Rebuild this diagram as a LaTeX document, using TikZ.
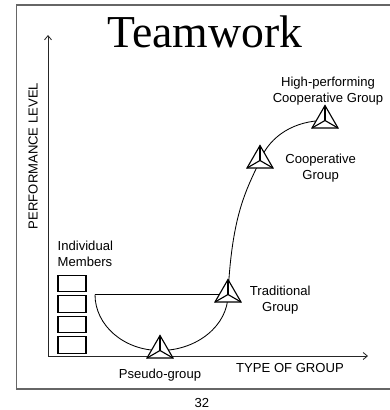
\documentclass[tikz,border=0pt]{standalone}
\usepackage{fontspec}
\setmainfont{Liberation Sans}
\newfontfamily\titlefont{Liberation Serif}
\usetikzlibrary{shapes.geometric, positioning, arrows.meta, backgrounds}

\begin{document}
\begin{tikzpicture}[
    x=0.025cm, y=-0.025cm,
    groupmark/.style={
        regular polygon,
        regular polygon sides=3,
        draw,
        line width=0.8pt,
        fill=white,
        minimum size=0.75cm,
        inner sep=0pt,
        outer sep=0pt
    },
    member/.style={
        rectangle,
        draw,
        line width=0.8pt,
        minimum width=0.7cm,
        minimum height=0.41cm,
        inner sep=0pt
    },
    grouplabel/.style={
        align=center,
        font=\fontsize{9.3}{11.3}\selectfont
    },
    axis/.style={
        -{Straight Barb[length=3pt, width=5pt]},
        line width=0.6pt,
        black!85
    },
    growth/.style={
        line width=0.6pt
    }
]
    \useasboundingbox (0,0) rectangle (390,410);

    % Frame
    \draw[black!60, line width=0.9pt] (16.5,5) rectangle (396,389);

    % Title
    \node[font=\titlefont\fontsize{32.5}{36}\selectfont] (title) at (205,32) {Teamwork};

    % Axes
    \coordinate (origin) at (48,356);
    \coordinate (ytop) at (48,35);
    \coordinate (xend) at (368,356);
    \draw[axis] (origin) -- (ytop);
    \draw[axis] (origin) -- (xend);
    \node[grouplabel, rotate=90] (perf) at (33,156) {PERFORMANCE LEVEL};
    \node[grouplabel] (type) at (290,368) {TYPE OF GROUP};

    % Individual members
    \node[member] (member1) at (72,283.5) {};
    \node[member] (member2) at (72,304) {};
    \node[member] (member3) at (72,324.5) {};
    \node[member] (member4) at (72,345) {};
    \node[grouplabel, align=left, inner xsep=0pt, above right=0.075cm and 0cm of member1.north west] (members) {Individual\\Members};

    % Group types
    \node[groupmark] (pseudo) at (160,350.5) {};
    \node[groupmark] (traditional) at (228,294.5) {};
    \node[groupmark] (cooperative) at (260,160.5) {};
    \node[groupmark] (highperf) at (325,120.5) {};

    \foreach \g in {pseudo, traditional, cooperative, highperf}
        \foreach \c in {1,2,3}
            \draw[line width=0.8pt] (\g.center) -- (\g.corner \c);

    % Labels
    \node[grouplabel, below=0.33cm of pseudo.center] (pseudolbl) {Pseudo-group};
    \node[grouplabel, right=0.425cm of traditional.center, anchor=west, yshift=-0.14cm] (traditionallbl) {Traditional\\Group};
    \node[grouplabel, right=0.51cm of cooperative.center, anchor=west, yshift=-0.19cm] (cooperativelbl) {Cooperative\\Group};
    \node[grouplabel, above=0.26cm of highperf.center, xshift=0.075cm] (highperflbl) {High-performing\\Cooperative Group};

    % Performance curve
    \coordinate (start) at (95,294.5);
    \begin{scope}[on background layer]
        \draw[growth] (start) -- (traditional.center);
        \draw[growth] (start) .. controls +(0,31) and +(-36,0) .. (pseudo.center)
            .. controls +(37,0) and +(0,31) .. (traditional.center)
            .. controls +(4,-80) and +(-14,30) .. (cooperative.center)
            .. controls +(10,-25) and +(-30,0) .. (highperf.center);
    \end{scope}

    % Page number
    \node[grouplabel] (page) at (202,403) {32};

\end{tikzpicture}
\end{document}
